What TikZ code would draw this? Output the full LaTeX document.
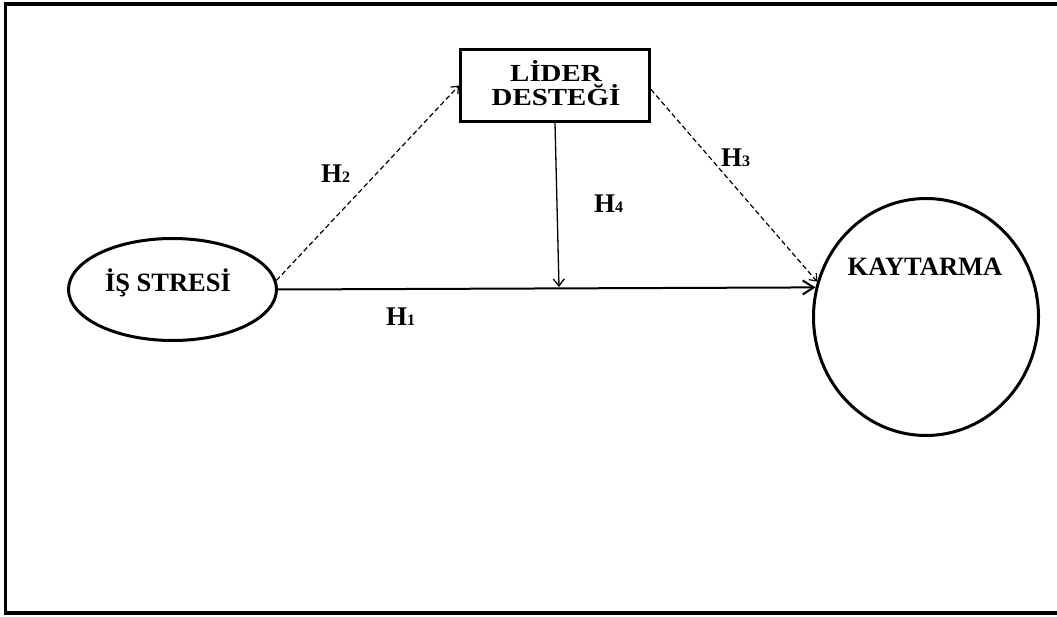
\documentclass[tikz,border=0pt]{standalone}
\usepackage{fontspec}
\setmainfont{Liberation Serif}
\newfontfamily\widebold[FakeStretch=1.18]{Liberation Serif}
\usetikzlibrary{arrows.meta,shapes.geometric}
\newcommand\hsub[1]{{\fontsize{16}{16}\selectfont #1}}
\begin{document}
\begin{tikzpicture}[x=1pt,y=-1pt,
  txt/.style={font=\fontsize{26.5}{26.5}\bfseries\selectfont, inner sep=0, anchor=base},
  boxtxt/.style={font=\widebold\fontsize{24.5}{24.5}\bfseries\selectfont, inner sep=0, anchor=base},
  hyp/.style={font=\fontsize{27}{27}\bfseries\selectfont, inner sep=0, anchor=base west},
  oval/.style={draw, ellipse, line width=3pt, inner sep=0},
  dashlink/.style={line width=1.2pt, dash pattern=on 5pt off 3pt,
    -{Straight Barb[length=6pt,width=10pt,line width=1.2pt]}},
  mainlink/.style={line width=2pt,
    -{Straight Barb[length=11pt,width=14pt,line width=2pt]}},
  modlink/.style={line width=1.3pt,
    -{Straight Barb[length=7pt,width=11pt,line width=1.3pt]}}]
\useasboundingbox (0,0) rectangle (1057,617);
% outer frame (right side runs past the page edge)
\draw[line width=3.3pt] (5.7,4) rectangle (1070,613);

% constructs
\node[oval, minimum width=208pt, minimum height=102pt] (is) at (172.5,289.5) {};
\node[oval, minimum width=225pt, minimum height=237pt] (kt) at (926,317) {};
\node[draw, line width=3pt, minimum width=189pt, minimum height=72pt, inner sep=0] (ld) at (555,85.5) {};

\node[txt] (istxt) at (168,292) {İŞ STRESİ};
\node[txt] (kttxt) at (925,276) {KAYTARMA};
\node[boxtxt] (ld1) at (556,82) {LİDER};
\node[boxtxt] (ld2) at (556,106) {DESTEĞİ};

% paths
\coordinate (m) at (559,287);
\draw[mainlink] (is.east) -- (kt.165);
\draw[dashlink] (is.5) -- (ld.west);
\draw[dashlink] ([yshift=-4pt]ld.east) -- (kt.162);
\draw[modlink] (ld.south) -- (m);

% hypothesis labels
\node[hyp] (h1) at (386,326) {H\hsub{1}};
\node[hyp] (h2) at (321,183) {H\hsub{2}};
\node[hyp] (h3) at (721,167) {H\hsub{3}};
\node[hyp] (h4) at (594,213) {H\hsub{4}};
\end{tikzpicture}
\end{document}
